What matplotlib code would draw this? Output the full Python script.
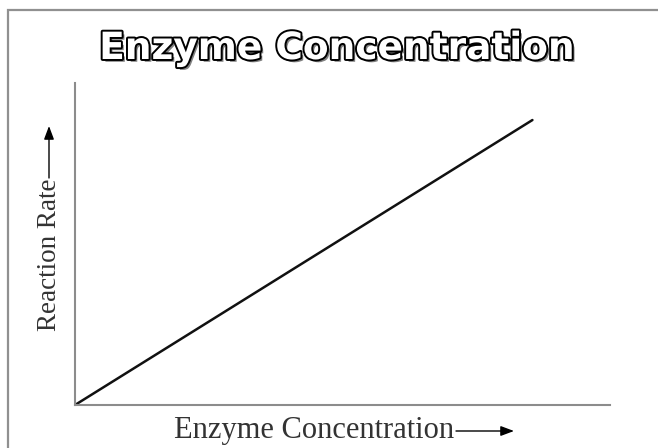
import matplotlib
matplotlib.use('Agg')
import matplotlib.pyplot as plt
import matplotlib.patheffects as pe
from matplotlib.patches import Rectangle, FancyArrowPatch

# enzyme concentration vs reaction rate (arbitrary units)
enzyme = [0.0, 8.55]
rate = [0.0, 8.85]

title = 'Enzyme Concentration'
xlabel = 'Enzyme Concentration'
ylabel = 'Reaction Rate'

W, H = 658, 448
fig = plt.figure(figsize=(W/100, H/100), dpi=100)

# outer frame, right and bottom edges run off the image
fig.patches.append(Rectangle((8/W, -0.1), 1.2, 1 - 10.5/H + 0.1, transform=fig.transFigure,
                             fill=False, edgecolor='#909090', linewidth=1.6))

ax = fig.add_axes([75/W, 1 - 405/H, 535/W, 322/H])
ax.plot(enzyme, rate, color='#111111', linewidth=1.8, solid_capstyle='round')
ax.set_xlim(0, 10)
ax.set_ylim(0, 10)
ax.set_xticks([])
ax.set_yticks([])
for s in ['top', 'right']:
    ax.spines[s].set_visible(False)
for s in ['left', 'bottom']:
    ax.spines[s].set_color('#8c8c8c')
    ax.spines[s].set_linewidth(1.5)

# outlined title with drop shadow
fig.text(337/W, 1 - 49/H, title, ha='center', va='center', fontsize=27,
         fontweight='bold', family='DejaVu Sans', color='white',
         path_effects=[pe.withSimplePatchShadow(offset=(2, -2), shadow_rgbFace='#808080', alpha=1),
                       pe.Stroke(linewidth=2.8, foreground='black'), pe.Normal()])

serif = 'Liberation Serif'
fig.text(174/W, 1 - 430/H, xlabel, ha='left', va='center', fontsize=22,
         family=serif, color='#333333')
fig.text(50/W, 1 - 331/H, ylabel, ha='center', va='bottom', fontsize=19.5,
         family=serif, color='#333333', rotation=90)

# arrows after the axis labels
arrow = dict(arrowstyle='-|>,head_length=0.4,head_width=0.15', color='black', lw=1,
             mutation_scale=20, shrinkA=0, shrinkB=0)
fig.add_artist(FancyArrowPatch((456/W, 1 - 431/H), (514/W, 1 - 431/H),
               transform=fig.transFigure, **arrow))
fig.add_artist(FancyArrowPatch((49/W, 1 - 178/H), (49/W, 1 - 126/H),
               transform=fig.transFigure, **arrow))

fig.savefig('out.png', dpi=100)
